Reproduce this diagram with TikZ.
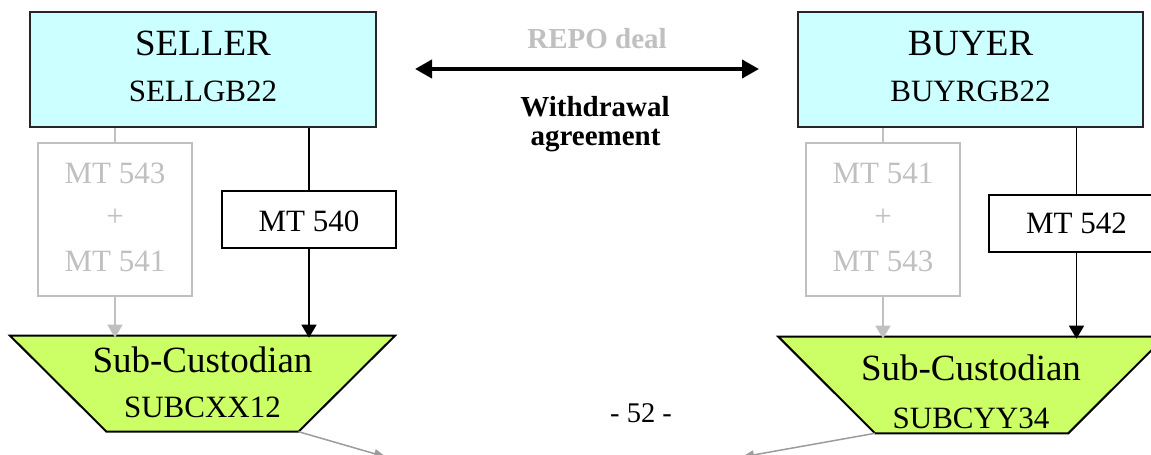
\documentclass[tikz,border=0pt]{standalone}
\usepackage{fontspec}
\setmainfont{Liberation Serif}
\usetikzlibrary{arrows.meta}
\definecolor{cyanfill}{HTML}{CCFFFF}
\definecolor{limefill}{HTML}{CCFF66}
\definecolor{ltgray}{HTML}{C0C0C0}
\definecolor{midgray}{HTML}{9C9C9C}
\newcommand\fsBig{\fontsize{37}{44}\selectfont}
\newcommand\fsMid{\fontsize{31}{37}\selectfont}
\newcommand\fsBold{\fontsize{29}{35}\selectfont\bfseries}
\newcommand\fsPage{\fontsize{28.5}{34}\selectfont}
\tikzset{
  partybox/.style={draw=black!85, line width=1.5pt, fill=cyanfill, inner sep=0pt},
  ghostbox/.style={draw=ltgray, line width=1.5pt, inner sep=0pt},
  msgbox/.style={draw=black, line width=2pt, fill=white, inner sep=0pt},
  custframe/.style={inner sep=0pt, outer sep=0pt},
  custshape/.style={draw=black, line width=2pt, fill=limefill, line join=miter},
  lbl/.style={anchor=base, inner sep=0pt},
  blackflow/.style={draw=black, line width=1.6pt},
  ghostflow/.style={draw=ltgray, line width=1.5pt},
  outflow/.style={draw=midgray, line width=1.5pt, -{Triangle[length=12pt,width=9pt]}},
  blacktip/.style={-{Triangle[length=13pt,width=15pt]}},
  ghosttip/.style={-{Triangle[length=13pt,width=15pt]}},
}
\begin{document}
\begin{tikzpicture}[x=1pt,y=-1pt]
\useasboundingbox (0,0) rectangle (1151,455);
\clip (0,0) rectangle (1151,455);
\fill[white] (0,0) rectangle (1151,455);

% boxes
\node[partybox, minimum width=346pt, minimum height=115pt] (seller) at (203,69.5) {};
\node[partybox, minimum width=345pt, minimum height=115pt] (buyer) at (970.5,69.5) {};
\node[ghostbox, minimum width=154pt, minimum height=153pt] (ghostL) at (115,219.5) {};
\node[ghostbox, minimum width=154pt, minimum height=153pt] (ghostR) at (883,219.5) {};
\node[msgbox, minimum width=174pt, minimum height=57pt] (mtL) at (309,219.5) {};
\node[msgbox, minimum width=175pt, minimum height=57pt] (mtR) at (1076.5,223.5) {};

% sub-custodian trapezoids (frame node + drawn outline)
\node[custframe, minimum width=385pt, minimum height=96pt] (subL) at (202.5,383.7) {};
\node[custframe, minimum width=386.7pt, minimum height=96.6pt] (subR) at (971.65,385) {};
\coordinate (subLbl) at ([xshift=96.5pt]subL.south west);
\coordinate (subLbr) at ([xshift=-96.5pt]subL.south east);
\coordinate (subRbl) at ([xshift=96.7pt]subR.south west);
\coordinate (subRbr) at ([xshift=-96.7pt]subR.south east);
\path[custshape] (subL.north west) -- (subL.north east) -- (subLbr) -- (subLbl) -- cycle;
\path[custshape] (subR.north west) -- (subR.north east) -- (subRbr) -- (subRbl) -- cycle;

% labels
\node[lbl, font=\fsBig] (tseller) at (203,55) {SELLER};
\node[lbl, font=\fsMid] (tsellbic) at (203,101.7) {SELLGB22};
\node[lbl, font=\fsBig] (tbuyer) at (970.5,55) {BUYER};
\node[lbl, font=\fsMid] (tbuybic) at (970.5,101.7) {BUYRGB22};
\node[lbl, font=\fsBold, text=ltgray] (trepo) at (597,48.3) {REPO deal};
\node[lbl, font=\fsBold] (twd) at (595,116) {Withdrawal};
\node[lbl, font=\fsBold] (tagr) at (595.5,145) {agreement};
\node[lbl, font=\fsMid, text=ltgray] (gL1) at (115,183.3) {MT 543};
\node[lbl, font=\fsMid, text=ltgray] (gL2) at (115,226.7) {+};
\node[lbl, font=\fsMid, text=ltgray] (gL3) at (115,271.7) {MT 541};
\node[lbl, font=\fsMid, text=ltgray] (gR1) at (883,183.3) {MT 541};
\node[lbl, font=\fsMid, text=ltgray] (gR2) at (883,226.7) {+};
\node[lbl, font=\fsMid, text=ltgray] (gR3) at (883,271.7) {MT 543};
\node[lbl, font=\fsMid] (tmtL) at (309,231.7) {MT 540};
\node[lbl, font=\fsMid] (tmtR) at (1076.5,233.3) {MT 542};
\node[lbl, font=\fsBig] (tsubL) at (202.5,372.5) {Sub-Custodian};
\node[lbl, font=\fsMid] (tsubLbic) at (202.5,417) {SUBCXX12};
\node[lbl, font=\fsBig] (tsubR) at (971,380.7) {Sub-Custodian};
\node[lbl, font=\fsMid] (tsubRbic) at (971,428.3) {SUBCYY34};
\node[lbl, font=\fsPage] (tpage) at (641,422.7) {- 52 -};

% deal arrow
\coordinate (dealL) at (415,69);
\coordinate (dealR) at (759,69);
\draw[line width=4pt, {Triangle[length=17pt,width=18pt]}-{Triangle[length=17pt,width=18pt]}] (dealL) -- (dealR);

% seller side flows
\draw[ghostflow] (seller.south -| ghostL.north) -- (ghostL.north);
\draw[ghostflow, ghosttip] (ghostL.south) -- ([yshift=-2pt]ghostL.south |- subL.north);
\draw[blackflow] (seller.south -| mtL.north) -- (mtL.north);
\draw[blackflow, blacktip] (mtL.south) -- ([yshift=-2pt]mtL.south |- subL.north);

% buyer side flows
\draw[ghostflow] (buyer.south -| ghostR.north) -- (ghostR.north);
\draw[ghostflow, ghosttip] (ghostR.south) -- ([yshift=-2pt]ghostR.south |- subR.north);
\draw[blackflow] (buyer.south -| mtR.north) -- (mtR.north);
\draw[blackflow, blacktip] (mtR.south) -- ([yshift=-2pt]mtR.south |- subR.north);

% outgoing flows
\coordinate (outL) at (386,457);
\coordinate (outR) at (742,457);
\draw[outflow] (subLbr) -- (outL);
\draw[outflow] (subRbl) -- (outR);
\end{tikzpicture}
\end{document}
